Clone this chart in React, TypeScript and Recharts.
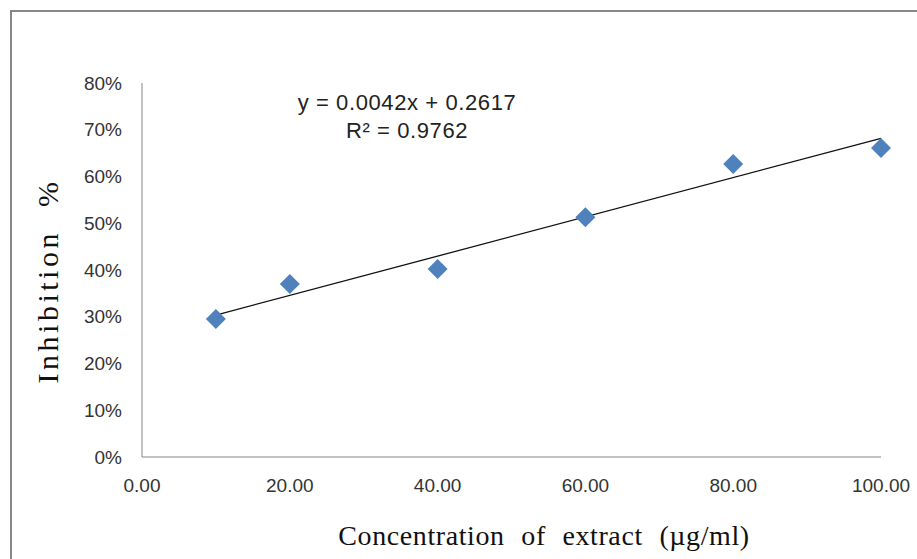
import { ScatterChart, Scatter, XAxis, YAxis } from "recharts";

// concentration (µg/ml) and inhibition fraction
const concentrations = [10, 20, 40, 60, 80, 100];
const inhibition = [0.295, 0.37, 0.402, 0.513, 0.627, 0.661];

// trendline end points, from y = 0.0042x + 0.2617
const trendX = [10, 100];
const trendY = [0.3037, 0.6817];

const xTicks = [0, 20, 40, 60, 80, 100];
const yTicks = [0, 0.1, 0.2, 0.3, 0.4, 0.5, 0.6, 0.7, 0.8];

const points = concentrations.map((x, i) => ({ x, y: inhibition[i] }));
const trend = trendX.map((x, i) => ({ x, y: trendY[i] }));

const Diamond = (props: any) => {
  const { cx, cy } = props;
  const r = 10;
  return (
    <polygon
      points={`${cx},${cy - r} ${cx + r},${cy} ${cx},${cy + r} ${cx - r},${cy}`}
      fill="#4F81BD"
    />
  );
};

const tickStyle = { fontFamily: "Liberation Sans, Arial, sans-serif", fontSize: 19, fill: "#333" };
const eqStyle = { fontFamily: "Liberation Sans, Arial, sans-serif", fontSize: 22, fill: "#222", letterSpacing: 0.6 };
const titleFont = "Liberation Serif, Times New Roman, serif";

export default function App() {
  return (
    <div style={{ position: "absolute", left: 0, top: 0, width: 917, height: 559, overflow: "hidden", background: "#fff" }}>
      <div
        style={{
          position: "absolute",
          left: 10,
          top: 10,
          width: 940,
          height: 600,
          border: "2px solid #878787",
          boxSizing: "border-box",
        }}
      />
      <div style={{ position: "absolute", left: 0, top: 0 }}>
        <ScatterChart width={917} height={559} margin={{ top: 83, right: 36, left: 0, bottom: 0 }}>
          <XAxis
            type="number"
            dataKey="x"
            domain={[0, 100]}
            ticks={xTicks}
            tickFormatter={(v: number) => v.toFixed(2)}
            tickLine={false}
            tickSize={0}
            tickMargin={22}
            height={102}
            stroke="#868686"
            tick={tickStyle}
          />
          <YAxis
            type="number"
            dataKey="y"
            domain={[0, 0.8]}
            ticks={yTicks}
            tickFormatter={(v: number) => `${Math.round(v * 100)}%`}
            tickLine={false}
            tickSize={0}
            tickMargin={20}
            width={142}
            stroke="#868686"
            tick={tickStyle}
          />
          <Scatter
            data={trend}
            line={{ stroke: "#111", strokeWidth: 1.3 }}
            shape={() => <g />}
            isAnimationActive={false}
          />
          <Scatter data={points} shape={<Diamond />} isAnimationActive={false} />
          <text x={407} y={110} textAnchor="middle" style={eqStyle}>
            y = 0.0042x + 0.2617
          </text>
          <text x={407} y={138} textAnchor="middle" style={eqStyle}>
            R² = 0.9762
          </text>
          <text
            x={544}
            y={545}
            textAnchor="middle"
            style={{ fontFamily: titleFont, fontSize: 28, fill: "#111", letterSpacing: 0.6, wordSpacing: 9 }}
          >
            Concentration of extract (µg/ml)
          </text>
          <text
            x={58}
            y={281}
            textAnchor="middle"
            transform="rotate(-90, 58, 281)"
            style={{ fontFamily: titleFont, fontSize: 30, fill: "#111", letterSpacing: 3.5, wordSpacing: 12 }}
          >
            Inhibition %
          </text>
        </ScatterChart>
      </div>
    </div>
  );
}
